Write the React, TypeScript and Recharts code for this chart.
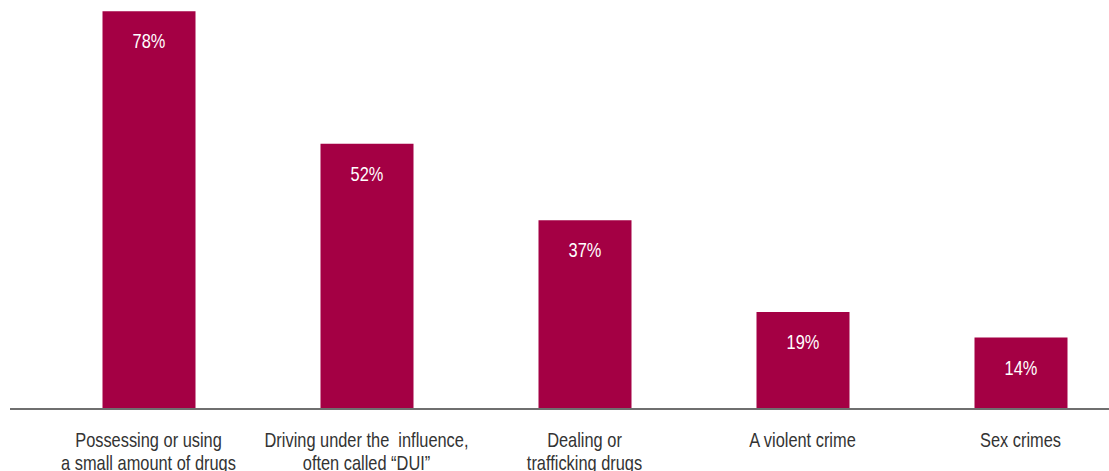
import * as React from "react";
import { Bar, BarChart, LabelList, XAxis, YAxis } from "recharts";

const categories = [
  "Possessing or using|a small amount of drugs",
  "Driving under the  influence,|often called \u201cDUI\u201d",
  "Dealing or|trafficking drugs",
  "A violent crime",
  "Sex crimes",
];
const shares = [78, 52, 37, 19, 14];

const data = categories.map((name, i) => ({ name, value: shares[i] }));

// no narrow face is installed, so squeeze Liberation Sans horizontally
const FONT = '"Liberation Sans", Arial, sans-serif';
const SQUEEZE = 0.82;

function CategoryTick(props: any) {
  const { x, y, payload } = props;
  const lines = String(payload.value).split("|");
  return (
    <g transform={`translate(${x},${y})`}>
      {lines.map((line, i) => (
        <g key={i} transform={`translate(0,${30 + i * 23}) scale(${SQUEEZE},1)`}>
          <text
            x={0}
            y={0}
            textAnchor="middle"
            fill="#333333"
            fontSize={20}
            fontFamily={FONT}
            style={{ whiteSpace: "pre" }}
          >
            {line}
          </text>
        </g>
      ))}
    </g>
  );
}

function ValueLabel(props: any) {
  const { x, y, width, value } = props;
  return (
    <g transform={`translate(${x + width / 2},${y + 37}) scale(${SQUEEZE},1)`}>
      <text x={0} y={0} textAnchor="middle" fill="#ffffff" fontSize={20} fontFamily={FONT}>
        {value}%
      </text>
    </g>
  );
}

export default function App() {
  return (
    <div
      style={{
        position: "absolute",
        left: 0,
        top: 0,
        width: 1109,
        height: 471,
        overflow: "hidden",
        background: "#fff",
      }}
    >
      <BarChart
        width={1150}
        height={471}
        data={data}
        margin={{ top: 1, right: 0, bottom: 0, left: 10 }}
      >
        <YAxis hide domain={[0, 80]} />
        <XAxis
          dataKey="name"
          axisLine={{ stroke: "#6f6f6f", strokeWidth: 2 }}
          tickLine={false}
          height={62}
          interval={0}
          padding={{ left: 29.5, right: 20.5 }}
          tick={<CategoryTick />}
        />
        <Bar dataKey="value" fill="#a40044" barSize={93} isAnimationActive={false}>
          <LabelList dataKey="value" content={<ValueLabel />} />
        </Bar>
      </BarChart>
    </div>
  );
}
